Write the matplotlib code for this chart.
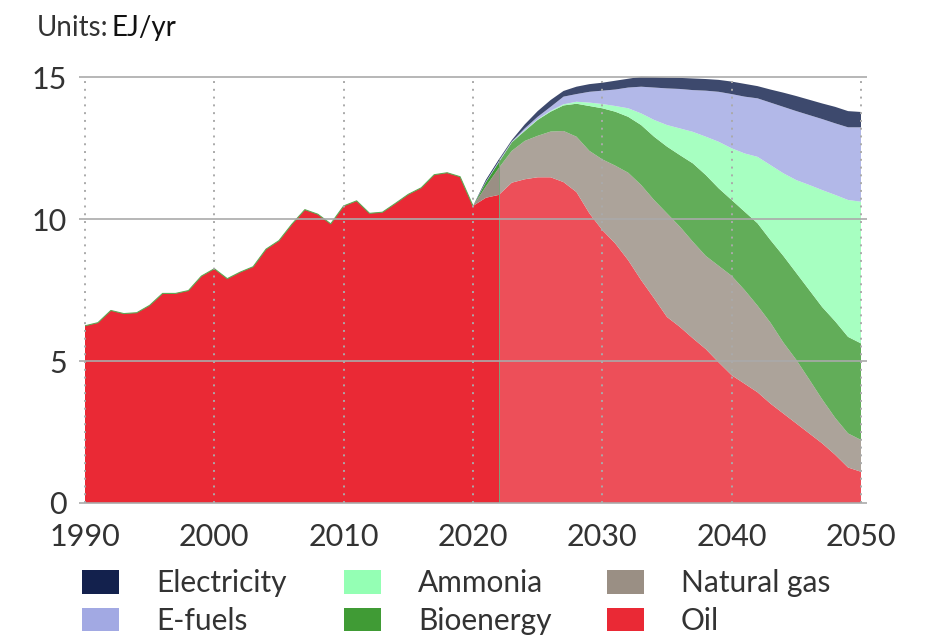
import numpy as np
import matplotlib.pyplot as plt

plt.rcParams['font.family'] = ['Lato', 'DejaVu Sans']

# historical oil use, 1990-2022 (EJ/yr)
hist_years = np.arange(1990, 2023)
oil_hist = [6.24, 6.35, 6.78, 6.67, 6.70, 6.96, 7.38, 7.38, 7.48, 7.99,
            8.25, 7.90, 8.13, 8.32, 8.94, 9.24, 9.82, 10.33, 10.17, 9.83,
            10.46, 10.64, 10.20, 10.24, 10.55, 10.87, 11.10, 11.56, 11.63, 11.49,
            10.46, 10.75, 10.85]

# projected oil, 2023-2050
oil_proj = [11.28, 11.40, 11.47, 11.47, 11.30, 10.95, 10.20, 9.61, 9.14, 8.55,
            7.85, 7.21, 6.55, 6.20, 5.80, 5.42, 4.95, 4.50, 4.20, 3.90,
            3.50, 3.15, 2.80, 2.45, 2.10, 1.70, 1.25, 1.10]

# other carriers, 2020-2050
gas = [0, 0.40, 0.95, 1.12, 1.35, 1.46, 1.61, 1.80, 1.95, 2.20, 2.49,
       2.74, 3.08, 3.35, 3.46, 3.65, 3.53, 3.40, 3.28, 3.40, 3.50,
       3.30, 3.05, 2.85, 2.50, 2.24, 1.90, 1.55, 1.30, 1.20, 1.12]
bio = [0, 0.15, 0.20, 0.30, 0.35, 0.56, 0.70, 0.90, 1.16, 1.58, 1.80,
       1.90, 1.97, 2.11, 2.23, 2.35, 2.52, 2.76, 2.85, 2.73, 2.67,
       2.76, 2.90, 2.91, 3.05, 3.06, 3.15, 3.25, 3.40, 3.40, 3.40]
ammonia = [0, 0, 0, 0.01, 0.02, 0.02, 0.03, 0.04, 0.07, 0.12, 0.15,
           0.20, 0.30, 0.41, 0.59, 0.76, 0.94, 1.11, 1.35, 1.64, 1.82,
           2.05, 2.34, 2.64, 2.91, 3.27, 3.70, 4.12, 4.45, 4.82, 4.99]
efuels = [0, 0.03, 0.05, 0.02, 0.07, 0.09, 0.14, 0.27, 0.27, 0.38, 0.47,
          0.58, 0.73, 0.94, 1.14, 1.29, 1.39, 1.47, 1.62, 1.76, 1.91,
          2.00, 2.06, 2.20, 2.34, 2.43, 2.46, 2.50, 2.52, 2.56, 2.62]
elec = [0, 0.05, 0.05, 0.05, 0.14, 0.20, 0.24, 0.20, 0.26, 0.27, 0.28,
        0.31, 0.31, 0.35, 0.37, 0.38, 0.39, 0.41, 0.41, 0.42, 0.44,
        0.45, 0.43, 0.46, 0.50, 0.53, 0.54, 0.55, 0.58, 0.57, 0.54]

labels = ['Oil', 'Natural gas', 'Bioenergy', 'Ammonia', 'E-fuels', 'Electricity']
colors = ['#EA2935', '#9A8F84', '#409B35', '#94FFB4', '#A2A9E3', '#13214D']

years = np.arange(1990, 2051)
pad = np.zeros(2020 - 1990)
oil = np.concatenate([oil_hist, oil_proj])
layers = [oil] + [np.concatenate([pad, s]) for s in (gas, bio, ammonia, efuels, elec)]
total = np.sum(layers, axis=0)

fig = plt.figure(figsize=(9.36, 6.43), dpi=100)
W, H = 936, 643
ax = fig.add_axes([85 / W, 1 - 503 / H, 776 / W, (503 - 74.2) / H])

polys = ax.stackplot(years, *layers, colors=colors, linewidth=0, zorder=1)

# projection period is shown paler
ax.axvspan(2022, 2050, color='white', alpha=0.18, lw=0, zorder=2)
ax.vlines(2022, 0, total[years == 2022][0], color='#7FA07A', lw=0.7, zorder=2.5)
# thin edge on the historical top
ax.plot(hist_years[:31], oil_hist[:31], color='#5DAA55', lw=0.8, zorder=2.5)

ax.set_xlim(1990, 2050)
ax.set_ylim(0, 15.1)

# grid
ax.hlines([0, 5, 10, 15], 1989.55, 2050.45, color='#AAAAAA', lw=1.2,
          zorder=3, clip_on=False)
ax.vlines(np.arange(1990, 2051, 10), 0, 15.05, color='#AAAAAA', lw=1.4,
          linestyles=(0, (1, 3)), zorder=3, clip_on=False)

for s in ax.spines.values():
    s.set_visible(False)
ax.set_xticks(np.arange(1990, 2051, 10))
ax.set_yticks([0, 5, 10, 15])
ax.tick_params(axis='x', length=0, pad=14.5, labelsize=22, labelcolor='#333333')
ax.tick_params(axis='y', length=0, pad=13, labelsize=22, labelcolor='#333333')

fig.text(37 / W, 1 - 36 / H, 'Units:', fontsize=20, color='#333333',
         va='baseline')
fig.text(112 / W, 1 - 36 / H, 'EJ/yr', fontsize=20, color='#111111',
         va='baseline')

# legend, three columns on a fixed grid
handle_map = dict(zip(labels, polys))
groups = [['Electricity', 'E-fuels'], ['Ammonia', 'Bioenergy'], ['Natural gas', 'Oil']]
col_x = [82, 344, 607]
for names, x0 in zip(groups, col_x):
    leg = fig.legend([handle_map[n] for n in names], names,
                     loc='upper left', bbox_to_anchor=(x0 / W, 1 - 569 / H),
                     frameon=False, fontsize=21.5, handlelength=1.25,
                     handleheight=0.85, handletextpad=1.22, labelspacing=0.33,
                     borderpad=0, borderaxespad=0, labelcolor='#333333')
    for h in leg.legend_handles:
        h.set_alpha(1)

fig.savefig('out.png', dpi=100)
